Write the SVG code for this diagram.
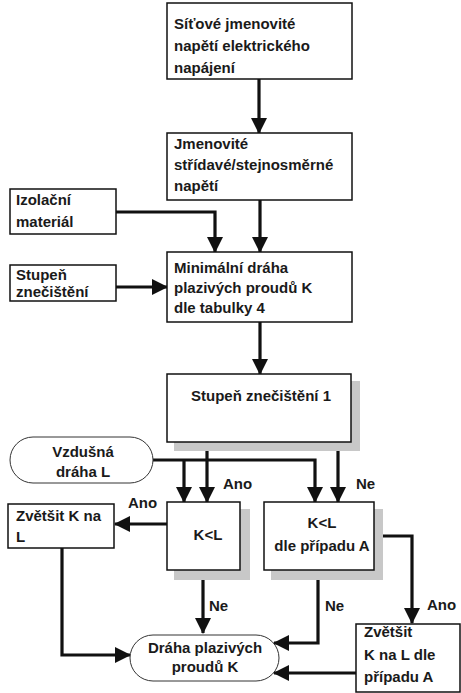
<svg xmlns="http://www.w3.org/2000/svg" width="461" height="693" viewBox="0 0 461 693">
<defs>
<marker id="ah" markerWidth="16" markerHeight="16" viewBox="0 0 16 16" refX="15" refY="8" orient="auto" markerUnits="userSpaceOnUse">
<path d="M0,0 L16,8 L0,16 Z" fill="#111"/>
</marker>
<style>
text{font-family:"Liberation Sans",Arial,sans-serif;font-weight:bold;font-size:15px;fill:#1a1a1a}
.box{fill:#fff;stroke:#111;stroke-width:1.5}
.pill{fill:#fff;stroke:#333;stroke-width:1}
.sh{fill:#c8c8c8}
.c{fill:none;stroke:#111;stroke-width:3.2}
.ca{fill:none;stroke:#111;stroke-width:3.2;marker-end:url(#ah)}
.m{text-anchor:middle}
</style>
</defs>
<rect width="461" height="693" fill="#fff"/>
<g id="connectors">
<path class="ca" d="M259,79 V133"/>
<path class="ca" d="M260,200 V252"/>
<path class="ca" d="M116,212 H215 V252"/>
<path class="ca" d="M116,287 H167"/>
<path class="ca" d="M260,322 V374"/>
<path class="ca" d="M207,442 V502"/>
<path class="ca" d="M338,442 V502"/>
<path class="ca" d="M153,460 H315 V502"/>
<path class="ca" d="M184,460 V502"/>
<path class="ca" d="M167,524 H115"/>
<path class="ca" d="M203,570 V633"/>
<path class="ca" d="M318,570 V643 H274"/>
<path class="ca" d="M374,536 H412 V623"/>
<path class="ca" d="M62,548 V655 H130"/>
<path class="ca" d="M356,673 H274"/>
<text x="223" y="489">Ano</text>
<text x="356" y="489">Ne</text>
<text x="128" y="508">Ano</text>
<text x="209" y="611">Ne</text>
<text x="325" y="611">Ne</text>
<text x="427" y="610">Ano</text>
</g>
<g id="n1">
<rect class="box" x="167" y="3" width="185" height="76"/>
<text x="174" y="29">Síťové jmenovité</text>
<text x="174" y="51">napětí elektrického</text>
<text x="174" y="73">napájení</text>
</g>
<g id="n2">
<rect class="box" x="167" y="133" width="185" height="67"/>
<text x="174" y="149">Jmenovité</text>
<text x="174" y="170">střídavé/stejnosměrné</text>
<text x="174" y="191">napětí</text>
</g>
<g id="n3">
<rect class="box" x="10" y="189" width="106" height="45"/>
<text x="16" y="205">Izolační</text>
<text x="16" y="227">materiál</text>
</g>
<g id="n4">
<rect class="box" x="10" y="265" width="106" height="36"/>
<text x="16" y="280">Stupeň</text>
<text x="16" y="297">znečištění</text>
</g>
<g id="n5">
<rect class="box" x="167" y="252" width="185" height="70"/>
<text x="174" y="273">Minimální dráha</text>
<text x="174" y="293">plazivých proudů K</text>
<text x="174" y="313">dle tabulky 4</text>
</g>
<g id="n6">
<rect class="sh" x="174" y="381" width="186" height="70"/>
<rect class="box" x="167" y="374" width="184" height="68"/>
<text class="m" x="261" y="401">Stupeň znečištění 1</text>
</g>
<g id="n7">
<rect class="pill" x="10" y="437" width="143" height="46" rx="23" ry="23"/>
<text class="m" x="83" y="457">Vzdušná</text>
<text class="m" x="83" y="477">dráha L</text>
</g>
<g id="n8">
<rect class="box" x="8" y="504" width="106" height="44"/>
<text x="16" y="521">Zvětšit K na</text>
<text x="16" y="542">L</text>
</g>
<g id="n9">
<rect class="sh" x="174" y="509" width="76" height="71"/>
<rect class="box" x="167" y="502" width="73" height="68"/>
<text class="m" x="208" y="540">K&lt;L</text>
</g>
<g id="n10">
<rect class="sh" x="271" y="509" width="112" height="71"/>
<rect class="box" x="264" y="502" width="110" height="68"/>
<text class="m" x="322" y="528">K&lt;L</text>
<text class="m" x="322" y="551">dle případu A</text>
</g>
<g id="n11">
<rect class="pill" x="130" y="635" width="149" height="46" rx="23" ry="23"/>
<text class="m" x="205" y="653">Dráha plazivých</text>
<text class="m" x="205" y="672">proudů K</text>
</g>
<g id="n12">
<rect class="box" x="356" y="624" width="104" height="68"/>
<text x="364" y="637">Zvětšit</text>
<text x="364" y="660">K na L dle</text>
<text x="364" y="682">případu A</text>
</g>
</svg>
